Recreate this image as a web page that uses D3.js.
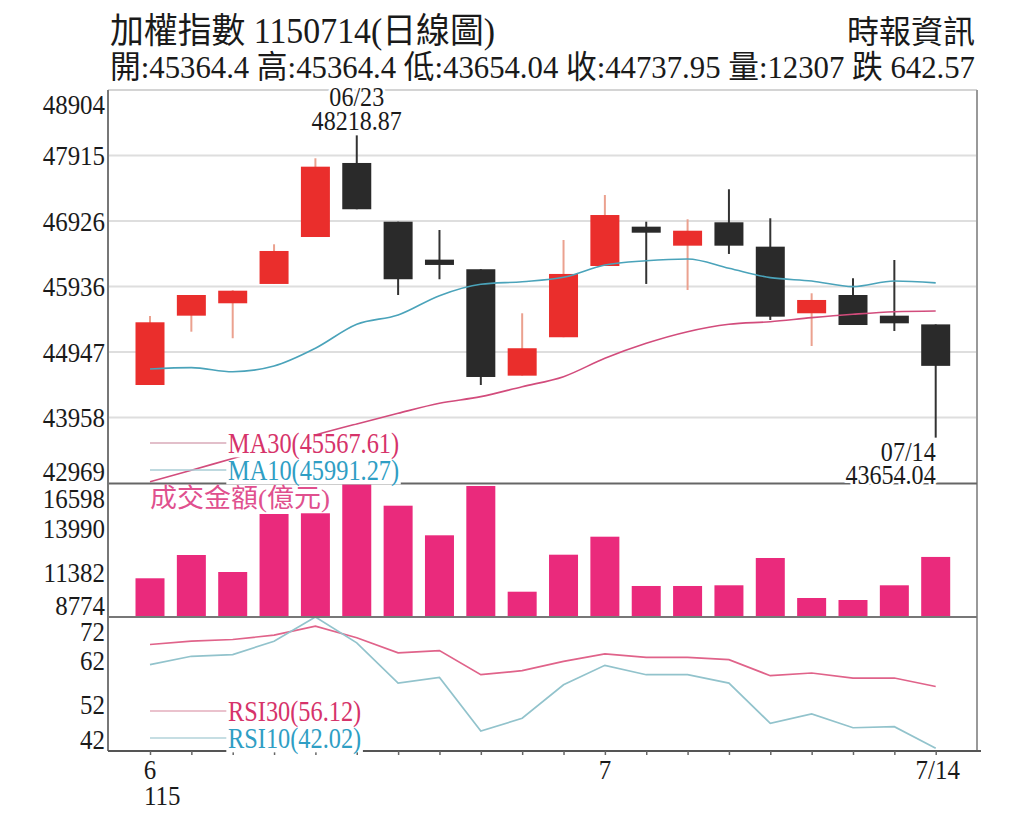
<!DOCTYPE html>
<html>
<head>
<meta charset="utf-8">
<script src="https://cdn.jsdelivr.net/npm/d3@7"></script>
<style>
body { margin: 0; background: #fff; }
svg { display: block; }
</style>
</head>
<body>
<div id="chart"></div>
<script>
// 20 trading days, 115/06 - 115/07/14
const dates = ["06/15","06/16","06/17","06/18","06/22","06/23","06/24","06/25","06/26","06/29",
               "06/30","07/01","07/02","07/03","07/06","07/07","07/08","07/09","07/13","07/14"];
const open  = [44449,45496,45683,45975,46684,47802,46915,46342,46197,44590,
               45170,46246,46840,46553,46906,46538,45532,45808,45496,45364.4];
const high  = [45491,45808,45880,46574,47873,48218.87,46915,46790,46197,45532,
               46639,47318,46915,46952,47405,46967,45834,46061,46337,45364.4];
const low   = [44449,45254,45155,45975,46684,47103,45808,46046,44449,44590,
               45170,46246,45975,45884,46428,45431,45038,45355,45265,43654.04];
const close = [45396,45808,45873,46473,47746,47103,46046,46262,44570,45004,
               46126,47016,46749,46779,46553,45481,45733,45355,45380.52,44737.95];
const ma10  = [44691,44711,44650,44736,45004,45366,45506,45798,45970,46009,
               46076,46261,46326,46352,46212,46070,46020,45934,46020,45991.27];
const ma30  = [42989,43160,43340,43513,43694,43861,44022,44173,44273,44424,
               44575,44853,45079,45254,45366,45405,45466,45517,45556,45567.61];
const volume = [11051,12421,11421,14833,14875,16598,15322,13580,16481,10262,
                12439,13498,10598,10598,10639,12245,9892,9774,10639,12307];
const rsi30 = [65.71,66.47,66.86,67.85,69.92,67.25,63.80,64.33,58.81,59.73,
               61.87,63.57,62.79,62.79,62.26,58.58,59.20,58.05,58.05,56.12];
const rsi10 = [61.11,63.02,63.41,66.47,71.99,66.10,56.90,58.19,45.93,48.85,
               56.51,60.95,58.81,58.81,56.90,47.70,49.84,46.69,46.92,42.02];

const priceTicks = [42969,43958,44947,45936,46926,47915,48904];
const volTicks = [8774,11382,13990,16598];
const rsiTicks = [42,52,62,72];
const xLabelDates = ["06/15","07/01","07/14"];
const xLabelText = ["6","7","7/14"];
const yearLabel = "115";

const title = "加權指數 1150714(日線圖)";
const source = "時報資訊";
const summary = "開:45364.4 高:45364.4 低:43654.04 收:44737.95 量:12307 跌 642.57";
const volTitle = "成交金額(億元)";

const W = 1024, H = 820;
const L = 108, R = 977;
const P = {top: 90, bot: 483};   // price panel
const V = {top: 484, bot: 617};  // volume panel
const S = {top: 617, bot: 751};  // rsi panel

const SERIF = "'Liberation Serif','Noto Sans CJK TC',serif";
const RED = "#ea2e2c", REDWICK = "#eba18f", BLK = "#2a2a2a";
const PINK = "#d6336a", TEAL = "#2f9ec4";
const INK = "#1a1a1a";

const svg = d3.select("#chart").append("svg").attr("width", W).attr("height", H);

const x = d3.scalePoint().domain(dates).range([150, 935.7]);
const yP = d3.scaleLinear().domain([42969, 48904]).range([P.bot, P.top]);
const yV = d3.scaleLinear().domain([8774, 16598]).range([V.bot, V.top]);
const yR = d3.scaleLinear().domain([41.6, 72]).range([750, S.top]);

function label(g, px, py, s, o = {}) {
  const t = g.append("text")
    .attr("transform", `translate(${px},${py}) scale(${o.sx ?? 0.89},1)`)
    .attr("dy", "0.34em")
    .attr("text-anchor", o.anchor || "end")
    .attr("font-family", SERIF)
    .attr("font-size", o.size || 28)
    .attr("fill", o.fill || INK)
    .text(s);
  if (o.halo) {
    t.attr("stroke", "#fff").attr("stroke-width", o.halo)
      .attr("stroke-linejoin", "round").attr("paint-order", "stroke");
  }
  if (o.bg) {
    const b = t.node().getBBox();
    g.insert("rect", () => t.node())
      .attr("transform", t.attr("transform"))
      .attr("x", b.x - 2).attr("y", b.y + 8).attr("width", b.width + 4).attr("height", b.height - 10)
      .attr("fill", "#fff");
  }
  return t;
}

// keep tick labels inside their panel
function tickY(v, sc, pan) {
  return Math.max(pan.top + 14, Math.min(pan.bot - 12, sc(v)));
}

// header
svg.append("text").attr("x", 110).attr("y", 43)
  .attr("font-family", SERIF).attr("font-size", 35).attr("fill", INK)
  .attr("textLength", 385).attr("lengthAdjust", "spacingAndGlyphs").text(title);
svg.append("text").attr("x", 975).attr("y", 43).attr("text-anchor", "end")
  .attr("font-family", SERIF).attr("font-size", 32).attr("fill", INK).text(source);
svg.append("text").attr("x", 110).attr("y", 78)
  .attr("font-family", SERIF).attr("font-size", 32).attr("fill", INK)
  .attr("textLength", 865).attr("lengthAdjust", "spacingAndGlyphs").text(summary);

// grid
svg.append("g").selectAll("line").data(priceTicks.filter(d => d > 42969)).join("line")
  .attr("x1", L).attr("x2", R).attr("y1", d => yP(d)).attr("y2", d => yP(d))
  .attr("stroke", "#dedede").attr("stroke-width", 2);

// candles
const cw = 29;
const idx = d3.range(dates.length);
const cg = svg.append("g");
cg.selectAll("line").data(idx).join("line")
  .attr("x1", i => x(dates[i])).attr("x2", i => x(dates[i]))
  .attr("y1", i => yP(high[i])).attr("y2", i => yP(low[i]))
  .attr("stroke", i => close[i] >= open[i] ? REDWICK : "#333")
  .attr("stroke-width", 2);
cg.selectAll("rect").data(idx).join("rect")
  .attr("x", i => x(dates[i]) - cw / 2).attr("width", cw)
  .attr("y", i => yP(Math.max(open[i], close[i])))
  .attr("height", i => Math.max(2, Math.abs(yP(open[i]) - yP(close[i]))))
  .attr("fill", i => close[i] >= open[i] ? RED : BLK);

// moving averages
const lineP = d3.line().x((d, i) => x(dates[i])).y(d => yP(d)).curve(d3.curveMonotoneX);
svg.append("path").attr("d", lineP(ma30)).attr("fill", "none").attr("stroke", "#d24c7c").attr("stroke-width", 1.6);
svg.append("path").attr("d", lineP(ma10)).attr("fill", "none").attr("stroke", "#4aa3ba").attr("stroke-width", 1.6);

// volume bars
svg.append("g").selectAll("rect").data(idx).join("rect")
  .attr("x", i => x(dates[i]) - cw / 2).attr("width", cw)
  .attr("y", i => yV(volume[i])).attr("height", i => V.bot - yV(volume[i]))
  .attr("fill", "#ea2a7c");

// rsi
const lineR = d3.line().x((d, i) => x(dates[i])).y(d => yR(d));
svg.append("path").attr("d", lineR(rsi30)).attr("fill", "none").attr("stroke", "#e0638a").attr("stroke-width", 1.7);
svg.append("path").attr("d", lineR(rsi10)).attr("fill", "none").attr("stroke", "#92c3cc").attr("stroke-width", 1.7);

// frame
const fr = svg.append("g");
fr.append("line").attr("x1", L).attr("x2", R).attr("y1", P.top).attr("y2", P.top).attr("stroke", "#d4d4d4").attr("stroke-width", 2);
fr.append("line").attr("x1", R).attr("x2", R).attr("y1", P.top).attr("y2", S.bot).attr("stroke", "#999").attr("stroke-width", 2);
fr.append("line").attr("x1", L).attr("x2", R).attr("y1", P.bot + 0.5).attr("y2", P.bot + 0.5).attr("stroke", "#666").attr("stroke-width", 2);
fr.append("line").attr("x1", L).attr("x2", R).attr("y1", V.bot).attr("y2", V.bot).attr("stroke", "#777").attr("stroke-width", 2);
fr.append("line").attr("x1", L).attr("x2", L).attr("y1", P.top).attr("y2", S.bot).attr("stroke", "#777").attr("stroke-width", 2);

// x axis
const xa = svg.append("g").attr("transform", `translate(0,${S.bot})`)
  .call(d3.axisBottom(x).tickSize(4).tickFormat(""));
xa.select(".domain").remove();
xa.selectAll("line").attr("stroke", "#666").attr("stroke-width", 1.5);
fr.append("line").attr("x1", L).attr("x2", 981).attr("y1", S.bot).attr("y2", S.bot).attr("stroke", "#555").attr("stroke-width", 2);
xLabelDates.forEach((d, i) => label(svg, x(d) + (i === 2 ? 2 : 0), 769, xLabelText[i], {anchor: "middle"}));
label(svg, 144, 795, yearLabel, {anchor: "start"});

// y labels
const ax = svg.append("g");
priceTicks.forEach(v => label(ax, 105, tickY(v, yP, P), v));
volTicks.forEach(v => label(ax, 105, tickY(v, yV, V), v));
rsiTicks.forEach(v => label(ax, 105, tickY(v, yR, S), v));

// legends
const lg = svg.append("g");
function legend(py, text, lineCol, textCol) {
  lg.append("line").attr("x1", 150).attr("x2", 228).attr("y1", py).attr("y2", py)
    .attr("stroke", lineCol).attr("stroke-width", 1.6);
  label(lg, 228, py, text, {anchor: "start", fill: textCol, bg: true, size: 29, sx: 0.84});
}
legend(443, "MA30(45567.61)", "#d9aab8", PINK);
legend(470, "MA10(45991.27)", "#a9ccd5", TEAL);
legend(711, "RSI30(56.12)", "#e3aebd", PINK);
legend(738, "RSI10(42.02)", "#b3d3da", TEAL);
svg.append("text").attr("x", 150).attr("y", 507)
  .attr("font-family", SERIF).attr("font-size", 26).attr("fill", "#e0508e")
  .attr("textLength", 180).attr("lengthAdjust", "spacingAndGlyphs").text(volTitle);

// high / low notes
const hi = d3.maxIndex(high), lo = d3.minIndex(low);
label(svg, x(dates[hi]), yP(high[hi]) - 39, dates[hi], {anchor: "middle", halo: 6, sx: 0.86});
label(svg, x(dates[hi]), yP(high[hi]) - 15, high[hi].toFixed(2), {anchor: "middle", halo: 6, sx: 0.86});
label(svg, x(dates[lo]), yP(low[lo]) + 14, dates[lo], {anchor: "end", halo: 6, sx: 0.86});
label(svg, x(dates[lo]), yP(low[lo]) + 37, low[lo].toFixed(2), {anchor: "end", halo: 6, sx: 0.86});
</script>
</body>
</html>
